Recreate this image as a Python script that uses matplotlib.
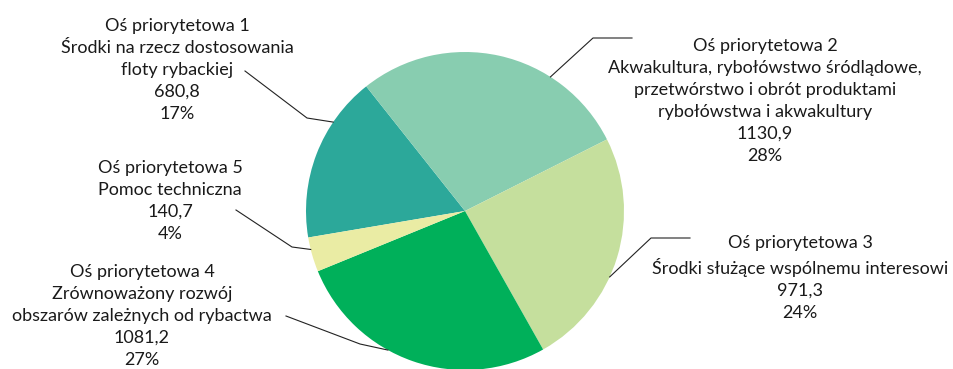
import numpy as np
import matplotlib
matplotlib.use('Agg')
from matplotlib import pyplot as plt

titles = ["Oś priorytetowa 1\nŚrodki na rzecz dostosowania\nfloty rybackiej",
          "Oś priorytetowa 2\nAkwakultura, rybołówstwo śródlądowe,\nprzetwórstwo i obrót produktami\nrybołówstwa i akwakultury",
          "Oś priorytetowa 3\nŚrodki służące wspólnemu interesowi",
          "Oś priorytetowa 4\nZrównoważony rozwój\nobszarów zależnych od rybactwa",
          "Oś priorytetowa 5\nPomoc techniczna"]
values = [680.8, 1130.9, 971.3, 1081.2, 140.7]
percents = ["17%", "28%", "24%", "27%", "4%"]
colors = ["#2ca89a", "#88cdb0", "#c5df9d", "#00b05a", "#eaeca4"]

# layout (pixel coords, y up)
W, H = 954, 369
cx, cy, R = 465, H - 211, 159
text_pos = [(177, H - 70), (765, H - 101), (800, H - 278), (142, H - 316), (170, H - 201)]
anchor_ang = [146, 57.5, -24.5, 241, 194]
elbows = [(307, H - 118), (593, H - 38), (651, H - 238), (360, H - 344), (292, H - 247)]
ends = [(245, H - 71), (632, H - 38), (690, H - 238), (286, H - 316), (236, H - 210)]

plt.rcParams['font.family'] = ['Lato', 'DejaVu Sans']

fig = plt.figure(figsize=(W / 100, H / 100), dpi=100)
ax = fig.add_axes([0, 0, 1, 1])

ax.pie(values, colors=colors, startangle=189.6, counterclock=False,
       center=(cx, cy), radius=R, frame=True)
ax.set_xlim(0, W)
ax.set_ylim(0, H)
ax.set_aspect('equal')
ax.axis('off')

for i in range(len(values)):
    a = np.deg2rad(anchor_ang[i])
    px, py = cx + R * np.cos(a), cy + R * np.sin(a)
    ex, ey = elbows[i]
    sx, sy = ends[i]
    ax.plot([px, ex, sx], [py, ey, sy], color="#222222", lw=0.8)
    label = titles[i] + "\n" + f"{values[i]:.1f}".replace(".", ",") + "\n" + percents[i]
    ax.text(text_pos[i][0], text_pos[i][1], label, ha='center', va='center',
            fontsize=13, color="#1a1a1a", linespacing=1.45)

fig.savefig("out.png", dpi=100)
